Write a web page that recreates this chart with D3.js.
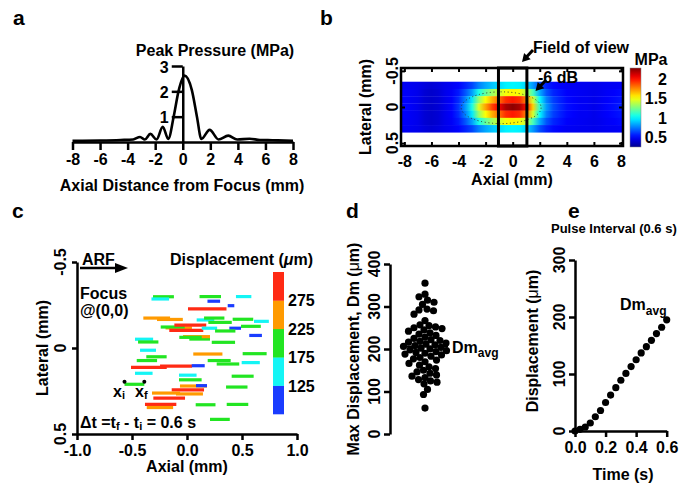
<!DOCTYPE html>
<html><head><meta charset="utf-8">
<script src="https://cdn.jsdelivr.net/npm/d3@7"></script>
<style>
body{margin:0;background:#fff;}
svg{display:block;font-family:"Liberation Sans",Arial,Helvetica,sans-serif;font-weight:bold;}
</style></head><body>
<svg id="fig" width="679" height="486"></svg>
<script>
// ---------------- DATA ----------------
// Panel a: peak pressure profile along axial direction
const pressureAxial = [-8, -6, -4.5, -3.6, -3.1, -2.75, -2.35, -1.9, -1.45, -1.05, -0.66, -0.3, 0.13, 0.66, 1.03, 1.35, 1.95, 2.6, 3.3, 3.95, 4.85, 5.6, 6.5, 8];
const pressureMPa   = [0.05, 0.06, 0.08, 0.1, 0.2, 0.1, 0.32, 0.1, 0.6, 0.12, 1.0, 2.02, 2.62, 2.05, 1.0, 0.12, 0.48, 0.1, 0.25, 0.1, 0.13, 0.08, 0.07, 0.05];
const aTicksX = [-8, -6, -4, -2, 0, 2, 4, 6, 8];
const aTicksY = [1, 2, 3];

// Panel b: pressure field (MPa), rows = lateral, columns = axial
const heatAxial = [-8,-7.5,-7,-6.5,-6,-5.5,-5,-4.5,-4,-3.5,-3,-2.5,-2,-1.5,-1,-0.5,0,0.5,1,1.5,2,2.5,3,3.5,4,4.5,5,5.5,6,6.5,7,7.5,8];
const heatLateral = [-0.3, -0.2, -0.1, 0, 0.1, 0.2, 0.3];
const heatValues = [
  [0.47,0.46,0.45,0.42,0.40,0.42,0.45,0.47,0.50,0.56,0.63,0.75,0.83,0.89,0.93,0.98,0.99,0.98,0.92,0.80,0.65,0.56,0.51,0.49,0.47,0.47,0.46,0.46,0.45,0.46,0.47,0.47,0.48],
  [0.48,0.47,0.45,0.40,0.38,0.40,0.45,0.48,0.54,0.66,0.81,1.05,1.20,1.32,1.41,1.50,1.53,1.50,1.38,1.14,0.84,0.66,0.57,0.53,0.49,0.48,0.47,0.46,0.45,0.46,0.48,0.49,0.51],
  [0.49,0.47,0.45,0.40,0.38,0.40,0.45,0.49,0.58,0.75,0.96,1.30,1.51,1.68,1.81,1.94,1.98,1.94,1.77,1.43,1.00,0.75,0.62,0.56,0.51,0.49,0.47,0.47,0.45,0.47,0.49,0.51,0.53],
  [0.50,0.48,0.45,0.40,0.38,0.40,0.45,0.50,0.60,0.80,1.05,1.45,1.70,1.90,2.05,2.20,2.25,2.20,2.00,1.60,1.10,0.80,0.65,0.58,0.52,0.50,0.48,0.47,0.45,0.47,0.50,0.52,0.55],
  [0.49,0.47,0.45,0.40,0.38,0.40,0.45,0.49,0.58,0.75,0.96,1.30,1.51,1.68,1.81,1.94,1.98,1.94,1.77,1.43,1.00,0.75,0.62,0.56,0.51,0.49,0.47,0.47,0.45,0.47,0.49,0.51,0.53],
  [0.48,0.47,0.45,0.40,0.38,0.40,0.45,0.48,0.54,0.66,0.81,1.05,1.20,1.32,1.41,1.50,1.53,1.50,1.38,1.14,0.84,0.66,0.57,0.53,0.49,0.48,0.47,0.46,0.45,0.46,0.48,0.49,0.51],
  [0.47,0.46,0.45,0.42,0.40,0.42,0.45,0.47,0.50,0.56,0.63,0.75,0.83,0.89,0.93,0.98,0.99,0.98,0.92,0.80,0.65,0.56,0.51,0.49,0.47,0.47,0.46,0.46,0.45,0.46,0.47,0.47,0.48]
];
const bTicksX = [-8, -6, -4, -2, 0, 2, 4, 6, 8];
const bTicksY = [-0.5, 0, 0.5];
const bColorTicks = [0.5, 1, 1.5, 2];
const fovAxial = [-1.05, 1.05];
const sixDbCenter = [-0.85, 0.01];
const sixDbRadii = [2.95, 0.22];

// Panel c: particle tracks (start axial mm, lateral mm, displacement um)
const trackStart = [-0.309,-0.323,0.114,0.445,0.186,0.370,0.009,-0.397,-0.273,0.088,0.155,0.415,0.609,0.194,-0.195,-0.239,-0.115,-0.161,0.134,0.385,0.491,0.255,0.566,0.021,-0.036,-0.070,-0.473,-0.445,0.225,-0.427,0.057,0.506,-0.370,-0.457,0.188,0.270,0.497,-0.509,-0.245,0.043,-0.473,-0.073,0.406,-0.073,-0.568,-0.064,0.082,0.355,-0.139,-0.318,-0.100,-0.306,-0.382,-0.366,0.079,0.361,0.209];
const trackLateral = [-0.298,-0.285,-0.299,-0.299,-0.272,-0.246,-0.228,-0.174,-0.166,-0.163,-0.174,-0.167,-0.155,-0.149,-0.117,-0.122,-0.133,-0.103,-0.115,-0.115,-0.126,-0.099,-0.073,-0.052,-0.066,-0.062,-0.051,-0.035,-0.033,0.013,0.035,0.033,0.051,0.073,0.073,0.093,0.085,0.113,0.105,0.103,0.147,0.158,0.164,0.185,0.211,0.221,0.219,0.227,0.244,0.262,0.267,0.291,0.328,0.346,0.330,0.328,0.415];
const trackDisp = [190,160,195,140,115,60,350,243,235,160,185,187,135,213,240,218,290,309,140,106,180,185,115,188,245,204,165,185,212,145,265,218,185,185,209,205,165,325,291,118,160,160,200,206,180,245,100,195,294,255,245,288,285,240,180,196,180];
const cTicksX = [-1.0, -0.5, 0, 0.5, 1.0];
const cTicksY = [-0.5, 0, 0.5];
const dispBinEdges = [75, 125, 175, 225, 275, 325];
const dispBinColors = ["#1a3cff", "#14f5f5", "#22e522", "#ff9a00", "#ff2a14"];
const dispColorTicks = [125, 175, 225, 275];

// Panel d: max displacement per particle (um)
const dmValues = [355,329,323,315,310,305,294,292,290,282,267,257,255,252,250,248,245,242,238,235,232,228,225,222,220,218,216,214,212,210,208,206,204,202,200,198,196,194,192,190,188,186,183,180,177,174,170,166,162,158,154,150,146,143,139,136,133,128,125,122,118,105,93,61];
const dmAverage = 206;
const dTicksY = [0, 100, 200, 300, 400];

// Panel e: average displacement vs time
const timeS = [0,0.033,0.067,0.1,0.133,0.167,0.2,0.233,0.267,0.3,0.333,0.367,0.4,0.433,0.467,0.5,0.533,0.567,0.6];
const dispAvg = [0,3,7,14,25,36,50,63,76,89,101,113,125,137,148,159,171,182,195];
const eTicksX = [0, 0.2, 0.4, 0.6];
const eTicksY = [0, 100, 200, 300];

// ---------------- HELPERS ----------------
const svg = d3.select("#fig");
svg.append("rect").attr("width",679).attr("height",486).attr("fill","#fff");
const FS = 16;

function text(g, x, y, s, o = {}) {
  const t = g.append("text").attr("x", x).attr("y", y).text(s)
    .attr("font-size", o.size || FS).attr("text-anchor", o.anchor || "start").attr("fill", "#000");
  if (o.rot) t.attr("transform", `rotate(${o.rot},${x},${y})`);
  return t;
}
function richText(g, x, y, parts, o = {}) {
  const t = g.append("text").attr("x", x).attr("y", y)
    .attr("font-size", o.size || FS).attr("text-anchor", o.anchor || "start").attr("fill", "#000");
  if (o.rot) t.attr("transform", `rotate(${o.rot},${x},${y})`);
  parts.forEach(p => {
    const ts = t.append("tspan").text(p.t);
    if (p.size) ts.attr("font-size", p.size);
    if (p.dy) ts.attr("dy", p.dy);
    if (p.style) ts.attr("font-style", p.style);
    if (p.weight) ts.attr("font-weight", p.weight);
  });
  return t;
}
function styleAxis(g, w) {
  g.selectAll("path.domain").attr("stroke", "#000").attr("stroke-width", w);
  g.selectAll(".tick line").attr("stroke", "#000").attr("stroke-width", w);
  g.selectAll(".tick text").attr("font-size", FS).attr("font-family", null).attr("font-weight", "bold").attr("fill", "#000");
  g.attr("font-family", null);
}
function arrow(g, x1, y1, x2, y2, w, hl, hw) {
  const ang = Math.atan2(y2 - y1, x2 - x1);
  const bx = x2 - hl * Math.cos(ang), by = y2 - hl * Math.sin(ang);
  g.append("line").attr("x1", x1).attr("y1", y1).attr("x2", bx + 1 * Math.cos(ang)).attr("y2", by + 1 * Math.sin(ang))
    .attr("stroke", "#000").attr("stroke-width", w);
  const px = -Math.sin(ang) * hw, py = Math.cos(ang) * hw;
  g.append("path").attr("d", `M${x2},${y2}L${bx + px},${by + py}L${bx - px},${by - py}Z`).attr("fill", "#000");
}
const fmt = d => String(d);

// panel letters
[["a",13,25],["b",320,25],["c",12,218],["d",346,218],["e",568,218]].forEach(([s,x,y]) => text(svg, x, y, s, {size: 21}));

// ---------------- PANEL A ----------------
{
  const g = svg.append("g");
  const x = d3.scaleLinear().domain([-8, 8]).range([72.5, 293]);
  const y = d3.scaleLinear().domain([0, 3]).range([142, 66]);
  const ax = g.append("g").attr("transform", "translate(0,142)")
    .call(d3.axisBottom(x).tickValues(aTicksX).tickSize(8).tickSizeOuter(0).tickPadding(4).tickFormat(fmt));
  styleAxis(ax, 2.5);
  const ay = g.append("g").attr("transform", `translate(${x(0)},0)`)
    .call(d3.axisLeft(y).tickValues(aTicksY).tickSize(11).tickSizeOuter(0).tickPadding(3).tickFormat(fmt));
  styleAxis(ay, 2.5);
  ay.selectAll(".tick text").attr("dy", "0.38em");
  g.append("path").datum(pressureAxial.map((a, i) => [a, pressureMPa[i]]))
    .attr("d", d3.line().x(d => x(d[0])).y(d => y(d[1])).curve(d3.curveMonotoneX))
    .attr("fill", "none").attr("stroke", "#000").attr("stroke-width", 2.6).attr("stroke-linejoin", "round");
  text(g, 215, 56, "Peak Pressure (MPa)", {anchor: "middle"});
  text(g, 182, 191, "Axial Distance from Focus (mm)", {anchor: "middle"});
}

// ---------------- PANEL B ----------------
{
  const g = svg.append("g");
  const L = 401, R = 623, T = 68, B = 146;
  const x = d3.scaleLinear().domain([-8.25, 8.15]).range([L, R]);
  const y = d3.scaleLinear().domain([-0.54, 0.54]).range([T, B]);
  const vmin = 0.24, vmax = 2.28;
  const jet = d3.scaleLinear()
    .domain([0, 0.125, 0.375, 0.625, 0.875, 1].map(t => vmin + t * (vmax - vmin)))
    .range(["#00008f", "#0000ff", "#00ffff", "#ffff00", "#ff0000", "#800000"]).clamp(true);
  const defs = svg.append("defs");
  heatLateral.forEach((lat, i) => {
    const gr = defs.append("linearGradient").attr("id", "hg" + i).attr("gradientUnits", "userSpaceOnUse")
      .attr("x1", x(heatAxial[0])).attr("x2", x(heatAxial[heatAxial.length - 1])).attr("y1", 0).attr("y2", 0);
    heatAxial.forEach((a, j) => {
      gr.append("stop").attr("offset", (x(a) - x(heatAxial[0])) / (x(heatAxial[heatAxial.length - 1]) - x(heatAxial[0])))
        .attr("stop-color", jet(heatValues[i][j]));
    });
    g.append("rect").attr("x", L).attr("width", R - L)
      .attr("y", y(lat - 0.05)).attr("height", y(lat + 0.05) - y(lat - 0.05) + 0.3)
      .attr("fill", `url(#hg${i})`);
  });
  // -6 dB contour
  g.append("ellipse").attr("cx", x(sixDbCenter[0])).attr("cy", y(sixDbCenter[1]))
    .attr("rx", x(sixDbRadii[0]) - x(0)).attr("ry", y(sixDbRadii[1]) - y(0))
    .attr("fill", "none").attr("stroke", "#333").attr("stroke-width", 1).attr("stroke-dasharray", "1,2.6");
  // frame
  g.append("rect").attr("x", L).attr("y", T).attr("width", R - L).attr("height", B - T)
    .attr("fill", "none").attr("stroke", "#000").attr("stroke-width", 2.5);
  // inward ticks
  const tb = g.append("g").attr("transform", `translate(0,${B})`)
    .call(d3.axisBottom(x).tickValues(bTicksX).tickSize(-4).tickSizeOuter(0).tickPadding(10).tickFormat(fmt));
  styleAxis(tb, 2); tb.select("path.domain").remove();
  const tt = g.append("g").attr("transform", `translate(0,${T})`)
    .call(d3.axisTop(x).tickValues(bTicksX).tickSize(-4).tickSizeOuter(0).tickFormat(""));
  styleAxis(tt, 2); tt.select("path.domain").remove();
  const tl = g.append("g").attr("transform", `translate(${L},0)`)
    .call(d3.axisLeft(y).tickValues(bTicksY).tickSize(-4).tickSizeOuter(0).tickFormat(""));
  styleAxis(tl, 2); tl.select("path.domain").remove();
  const tr = g.append("g").attr("transform", `translate(${R},0)`)
    .call(d3.axisRight(y).tickValues(bTicksY).tickSize(-4).tickSizeOuter(0).tickFormat(""));
  styleAxis(tr, 2); tr.select("path.domain").remove();
  bTicksY.forEach(v => text(g, 398, y(v), fmt(v), {anchor: "middle", rot: -90}));
  // field of view
  g.append("rect").attr("x", x(fovAxial[0])).attr("y", T).attr("width", x(fovAxial[1]) - x(fovAxial[0])).attr("height", B - T)
    .attr("fill", "none").attr("stroke", "#000").attr("stroke-width", 3);
  text(g, 512, 185, "Axial (mm)", {anchor: "middle"});
  text(g, 371, 107, "Lateral (mm)", {anchor: "middle", rot: -90});
  text(g, 533, 53, "Field of view");
  arrow(g, 533, 50, 522, 62, 3, 8, 4.5);
  text(g, 538, 83, "-6 dB");
  arrow(g, 546, 80, 535.5, 91, 3, 8, 4.5);
  // colorbar
  const cy = d3.scaleLinear().domain([vmin, vmax]).range([147, 68]);
  const cg = defs.append("linearGradient").attr("id", "cbB").attr("x1", 0).attr("x2", 0).attr("y1", 1).attr("y2", 0);
  d3.range(0, 1.0001, 0.05).forEach(t => cg.append("stop").attr("offset", t).attr("stop-color", jet(vmin + t * (vmax - vmin))));
  g.append("rect").attr("x", 630).attr("y", 68).attr("width", 11).attr("height", 79).attr("fill", "url(#cbB)")
    .attr("stroke", "#888").attr("stroke-width", 0.5);
  bColorTicks.forEach(v => text(g, 667, cy(v) + 6, fmt(v), {anchor: "end"}));
  text(g, 651, 65, "MPa", {anchor: "middle"});
}

// ---------------- PANEL C ----------------
{
  const g = svg.append("g");
  const x = d3.scaleLinear().domain([-1, 1]).range([77, 297]);
  const y = d3.scaleLinear().domain([-0.5, 0.5]).range([262, 434]);
  const color = d => {
    for (let i = 0; i < dispBinColors.length; i++) if (d < dispBinEdges[i + 1]) return dispBinColors[i];
    return dispBinColors[dispBinColors.length - 1];
  };
  g.selectAll("line.trk").data(trackStart.map((s, i) => ({s, lat: trackLateral[i], d: trackDisp[i]})))
    .join("line").attr("class", "trk")
    .attr("x1", d => x(d.s)).attr("x2", d => x(d.s + d.d / 1000))
    .attr("y1", d => y(d.lat)).attr("y2", d => y(d.lat))
    .attr("stroke", d => color(d.d)).attr("stroke-width", 3.2);
  const ax = g.append("g").attr("transform", "translate(0,434)")
    .call(d3.axisBottom(x).tickValues(cTicksX).tickSize(6).tickSizeOuter(0).tickPadding(5).tickFormat(d3.format(".1f")));
  styleAxis(ax, 2.5);
  ax.selectAll(".tick text").text(d => d3.format(".1f")(d).replace("\u2212", "-"));
  const ay = g.append("g").attr("transform", "translate(77,0)")
    .call(d3.axisLeft(y).tickValues(cTicksY).tickSize(5).tickSizeOuter(0).tickFormat(""));
  styleAxis(ay, 2.5);
  cTicksY.forEach(v => text(g, 66, y(v), fmt(v), {anchor: "middle", rot: -90}));
  text(g, 187, 472, "Axial (mm)", {anchor: "middle"});
  text(g, 48, 348, "Lateral (mm)", {anchor: "middle", rot: -90});
  // annotations
  text(g, 82, 265, "ARF");
  arrow(g, 80, 268, 128, 268, 2.5, 13, 5);
  text(g, 80, 299, "Focus");
  text(g, 80, 316, "@(0,0)");
  richText(g, 170, 265, [{t: "Displacement ("}, {t: "\u03bc", style: "italic"}, {t: "m)"}]);
  // xi / xf
  const i0 = 44;
  const xi = x(trackStart[i0]), xf = x(trackStart[i0] + trackDisp[i0] / 1000), yy = y(trackLateral[i0]) - 2.5;
  g.append("circle").attr("cx", xi).attr("cy", yy).attr("r", 2).attr("fill", "#000");
  g.append("circle").attr("cx", xf).attr("cy", yy).attr("r", 2).attr("fill", "#000");
  richText(g, 113, 397, [{t: "x"}, {t: "i", size: 11, dy: 2}]);
  richText(g, 135, 397, [{t: "x"}, {t: "f", size: 11, dy: 2}]);
  richText(g, 80, 428, [{t: "\u0394t =t"}, {t: "f", size: 11, dy: 2}, {t: " - t", dy: -2}, {t: "i", size: 11, dy: 2}, {t: " = 0.6 s", dy: -2}]);
  // colorbar
  const cy = d3.scaleLinear().domain([dispBinEdges[0], dispBinEdges[dispBinEdges.length - 1]]).range([414, 272]);
  dispBinColors.forEach((c, i) => {
    g.append("rect").attr("x", 273).attr("width", 11)
      .attr("y", cy(dispBinEdges[i + 1])).attr("height", cy(dispBinEdges[i]) - cy(dispBinEdges[i + 1]) + 0.3)
      .attr("fill", c);
  });
  dispColorTicks.forEach(v => text(g, 288, cy(v) + 6, fmt(v)));
}

// ---------------- PANEL D ----------------
{
  const g = svg.append("g");
  const y = d3.scaleLinear().domain([0, 400]).range([434, 264]);
  const ay = g.append("g").attr("transform", "translate(390,0)")
    .call(d3.axisLeft(y).tickValues(dTicksY).tickSize(6).tickSizeOuter(0).tickFormat(""));
  styleAxis(ay, 2.5);
  dTicksY.forEach(v => text(g, 380, y(v), fmt(v), {anchor: "middle", rot: -90}));
  richText(g, 359, y(200), [{t: "Max Displacement, Dm ("}, {t: "\u03bc", weight: "normal"}, {t: "m)"}], {anchor: "middle", rot: -90});
  // beeswarm layout
  const r = 3.6, cx = 425;
  const pts = dmValues.map(v => ({v, y: y(v)})).sort((a, b) => b.v - a.v);
  const placed = [];
  pts.forEach(p => {
    let best = 0;
    for (let k = 0; k < 200; k++) {
      const off = (k % 2 === 0 ? 1 : -1) * Math.ceil(k / 2) * 0.5;
      if (placed.every(q => (q.x - off) ** 2 + (q.y - p.y) ** 2 >= (2 * r - 0.8) ** 2)) { best = off; break; }
    }
    p.x = best; placed.push(p);
  });
  g.selectAll("circle.dm").data(placed).join("circle").attr("class", "dm")
    .attr("cx", d => cx + d.x).attr("cy", d => d.y).attr("r", r).attr("fill", "#000");
  g.append("line").attr("x1", 402).attr("x2", 448).attr("y1", y(dmAverage)).attr("y2", y(dmAverage))
    .attr("stroke", "#000").attr("stroke-width", 2);
  richText(g, 452, 353, [{t: "Dm"}, {t: "avg", size: 12, dy: 4}]);
}

// ---------------- PANEL E ----------------
{
  const g = svg.append("g");
  const x = d3.scaleLinear().domain([0, 0.6]).range([575, 666.7]);
  const y = d3.scaleLinear().domain([0, 300]).range([431, 260]);
  const ax = g.append("g").attr("transform", "translate(0,431)")
    .call(d3.axisBottom(x).tickValues(eTicksX).tickSize(6).tickSizeOuter(0).tickPadding(5).tickFormat(d3.format(".1f")));
  styleAxis(ax, 2.5);
  const ay = g.append("g").attr("transform", "translate(575,0)")
    .call(d3.axisLeft(y).tickValues(eTicksY).tickSize(6).tickSizeOuter(0).tickFormat(""));
  styleAxis(ay, 2.5);
  eTicksY.forEach(v => text(g, 565, y(v), fmt(v), {anchor: "middle", rot: -90}));
  richText(g, 538, 341, [{t: "Displacement ("}, {t: "\u03bc", weight: "normal"}, {t: "m)"}], {anchor: "middle", rot: -90});
  text(g, 623, 480, "Time (s)", {anchor: "middle"});
  text(g, 551, 233, "Pulse Interval (0.6 s)", {size: 13});
  g.selectAll("circle.e").data(timeS.map((t, i) => [t, dispAvg[i]])).join("circle").attr("class", "e")
    .attr("cx", d => x(d[0])).attr("cy", d => y(d[1])).attr("r", 3.6).attr("fill", "#000");
  richText(g, 620, 310, [{t: "Dm"}, {t: "avg", size: 12, dy: 5}]);
}
</script>
</body></html>
